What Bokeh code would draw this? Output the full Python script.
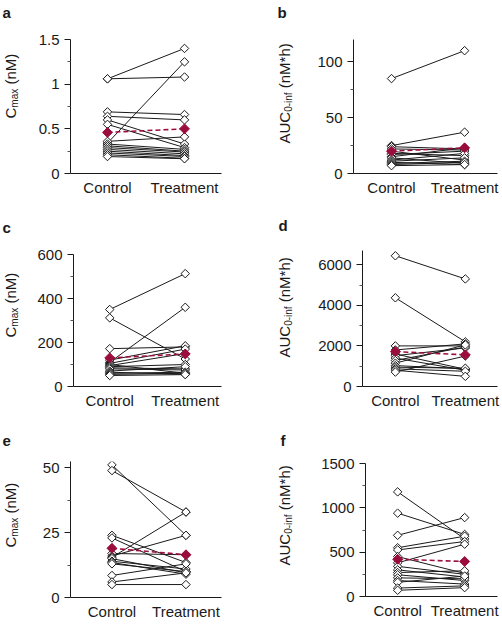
import math
from bokeh.plotting import figure
from bokeh.models import Range1d, FixedTicker, NumeralTickFormatter
from bokeh.core.properties import value
from bokeh.layouts import column, row
from bokeh.embed import file_html
from bokeh.resources import INLINE

# ---------------- data ----------------
groups = ["Control", "Treatment"]
group_pos = [1, 2]

# panel a: Cmax (nM)
a_control   = [1.06, 1.06, 0.69, 0.64, 0.60, 0.55, 0.34, 0.36, 0.33, 0.31, 0.29, 0.27, 0.25, 0.23, 0.21, 0.19]
a_treatment = [1.40, 1.08, 0.66, 0.60, 0.33, 0.29, 1.25, 0.41, 0.27, 0.25, 0.24, 0.22, 0.20, 0.19, 0.17, 0.165]
a_mean = [0.46, 0.50]

# panel b: AUC0-inf (nM*h)
b_control   = [85, 25, 24, 22, 20, 18, 17, 15, 14, 12, 11, 10, 9, 8, 7]
b_treatment = [110, 37, 22, 21, 12, 16, 20, 23, 9, 18, 14, 8, 11, 10, 8]
b_mean = [20, 23]

# panel c: Cmax (nM)
c_control   = [350, 312, 172, 110, 120, 105, 100, 95, 90, 85, 80, 70, 65, 60, 55, 50]
c_treatment = [513, 125, 180, 360, 185, 170, 60, 150, 100, 80, 75, 90, 55, 65, 60, 54]
c_mean = [130, 148]

# panel d: AUC0-inf (nM*h)
d_control   = [6440, 4370, 2000, 1800, 1600, 1520, 1400, 1280, 1150, 1030, 950, 870, 800, 710]
d_treatment = [5300, 2200, 2000, 2100, 850, 1900, 800, 1950, 2050, 870, 900, 750, 500, 1500]
d_mean = [1720, 1560]

# panel e: Cmax (nM)
e_control   = [51.2, 49, 24, 23, 17, 16, 15.5, 15, 14, 13.5, 13, 8.5, 6, 5]
e_treatment = [24, 33, 13.5, 10, 16.5, 24, 33, 9.5, 11, 9, 10, 13, 9.5, 5]
e_mean = [19, 16.5]

# panel f: AUC0-inf (nM*h)
f_control   = [1180, 940, 690, 550, 525, 450, 380, 340, 300, 270, 245, 210, 180, 160, 95, 70]
f_treatment = [650, 700, 890, 680, 620, 260, 590, 250, 220, 290, 180, 200, 140, 230, 120, 100]
f_mean = [420, 395]

# ---------------- style ----------------
MEAN_COLOR = "#9B0D3C"
INK = "#1a1a1a"
FONT = "Liberation Sans"
MAIN_PX = 15
SUB_PX = 10

ARIAL = {'A': 0.667, 'U': 0.722, 'C': 0.722, 'm': 0.833, 'a': 0.556, 'x': 0.5,
         ' ': 0.278, '(': 0.333, ')': 0.333, 'n': 0.556, 'M': 0.833, '*': 0.389,
         'h': 0.556, '0': 0.556, '-': 0.333, 'i': 0.222, 'f': 0.278}


def tw(s, px):
    return sum(ARIAL.get(ch, 0.556) for ch in s) * px


def no_align(p):
    try:
        p.frame_align = False
    except AttributeError:
        pass


def make_panel(ctrl, trt, mean, y_end, majors, minors, fmt,
               width, height, left, right, top, bottom, xr):
    p = figure(width=width, height=height, output_backend="svg", toolbar_location=None,
               x_range=Range1d(*xr), y_range=Range1d(0, y_end),
               min_border_left=left, min_border_right=right,
               min_border_top=top, min_border_bottom=bottom,
               background_fill_color="white", border_fill_color="white",
               outline_line_color=None)
    no_align(p)
    p.grid.visible = False

    xs = [list(group_pos) for _ in ctrl]
    ys = [[c, t] for c, t in zip(ctrl, trt)]
    p.multi_line(xs=xs, ys=ys, line_color=INK, line_width=1)
    p.line(x=group_pos, y=mean, line_color=MEAN_COLOR, line_width=1.6, line_dash="5 3")
    p.scatter(x=[group_pos[0]] * len(ctrl), y=ctrl, marker="square", angle=math.pi / 4,
              size=6, fill_color="white", line_color=INK, line_width=1)
    p.scatter(x=[group_pos[1]] * len(trt), y=trt, marker="square", angle=math.pi / 4,
              size=6, fill_color="white", line_color=INK, line_width=1)
    p.scatter(x=group_pos, y=mean, marker="square", angle=math.pi / 4,
              size=7, fill_color=MEAN_COLOR, line_color=MEAN_COLOR, line_width=1)

    xa = p.xaxis[0]
    xa.ticker = FixedTicker(ticks=group_pos)
    xa.major_label_overrides = {pos: g for pos, g in zip(group_pos, groups)}
    xa.major_tick_line_color = None
    xa.minor_tick_line_color = None
    xa.major_tick_out = 0
    xa.major_tick_in = 0
    xa.minor_tick_out = 0
    xa.minor_tick_in = 0
    xa.axis_line_color = INK
    xa.major_label_text_font = FONT
    xa.major_label_text_font_size = f"{MAIN_PX}px"
    xa.major_label_text_color = INK
    xa.major_label_standoff = 5

    ya = p.yaxis[0]
    ya.ticker = FixedTicker(ticks=majors, minor_ticks=minors)
    ya.formatter = NumeralTickFormatter(format=fmt)
    ya.axis_line_color = INK
    ya.major_tick_line_color = INK
    ya.minor_tick_line_color = "#555555"
    ya.major_tick_out = 6
    ya.major_tick_in = 0
    ya.minor_tick_out = 3
    ya.minor_tick_in = 0
    ya.major_label_text_font = FONT
    ya.major_label_text_font_size = f"{MAIN_PX}px"
    ya.major_label_text_color = INK
    ya.major_label_standoff = 5
    return p


def make_label_fig(width, height, letter, letter_xy, parts, label_x, label_y0):
    """Narrow text-only strip holding the panel letter and the rotated y label."""
    p = figure(width=width, height=height, output_backend="svg", toolbar_location=None,
               x_range=Range1d(0, width), y_range=Range1d(height, 0),
               x_axis_type=None, y_axis_type=None, min_border=0,
               outline_line_color=None, background_fill_color="white",
               border_fill_color="white")
    no_align(p)
    p.text(x=[letter_xy[0]], y=[letter_xy[1]], text=[letter], text_font=value(FONT),
           text_font_style="bold", text_font_size="15px", text_color=INK,
           text_baseline="alphabetic", text_align="left")
    y = label_y0
    main, sub, unit = parts
    pieces = ((main, MAIN_PX, 0, 0), (sub, SUB_PX, 4, 0), (unit, MAIN_PX, 0, tw(" ", MAIN_PX)))
    for txt, px, dx, gap in pieces:
        y -= gap
        p.text(x=[label_x + dx], y=[y], text=[txt], angle=math.pi / 2,
               text_align="left", text_baseline="middle", text_font=value(FONT),
               text_font_size=f"{px}px", text_color=INK)
        y -= tw(txt, px)
    return p


cmax_parts = ("C", "max", "(nM)")
auc_parts = ("AUC", "0-inf", "(nM*h)")

# row 1
la = make_label_fig(30, 200, "a", (2, 12), cmax_parts, 10, 118)
pa = make_panel(a_control, a_treatment, a_mean, 1.5, [0, 0.5, 1, 1.5], [0.25, 0.75, 1.25],
                "0.[0]", 218, 200, 40, 27, 39, 27, (0.52, 2.48))
lb = make_label_fig(46, 200, "b", (29, 12), auc_parts, 36, 143)
pb = make_panel(b_control, b_treatment, b_mean, 120, [0, 50, 100], [25, 75],
                "0", 208, 200, 59, 5, 39, 27, (0.48, 2.45))

# row 2
lc = make_label_fig(30, 211, "c", (2, 27), cmax_parts, 10, 137)
pc = make_panel(c_control, c_treatment, c_mean, 600, [0, 200, 400, 600], [100, 300, 500],
                "0", 218, 211, 43, 27, 54, 23, (0.52, 2.48))
ld = make_label_fig(46, 211, "d", (30, 25), auc_parts, 36, 157)
pd = make_panel(d_control, d_treatment, d_mean, 6700, [0, 2000, 4000, 6000], [1000, 3000, 5000],
                "0", 208, 211, 68, 5, 50, 23, (0.53, 2.46))

# row 3
le = make_label_fig(30, 213, "e", (2, 29), cmax_parts, 10, 136)
pe = make_panel(e_control, e_treatment, e_mean, 52.5, [0, 25, 50], [12.5, 37.5],
                "0", 218, 213, 40, 27, 50, 27, (0.44, 2.48))
lf = make_label_fig(46, 213, "f", (32, 29), auc_parts, 36, 154)
pf = make_panel(f_control, f_treatment, f_mean, 1500, [0, 500, 1000, 1500], [250, 750, 1250],
                "0", 208, 213, 71, 5, 52, 28, (0.52, 2.49))

layout = column(row(la, pa, lb, pb), row(lc, pc, ld, pd), row(le, pe, lf, pf))

open("out.html", "w").write(file_html(layout, INLINE))
